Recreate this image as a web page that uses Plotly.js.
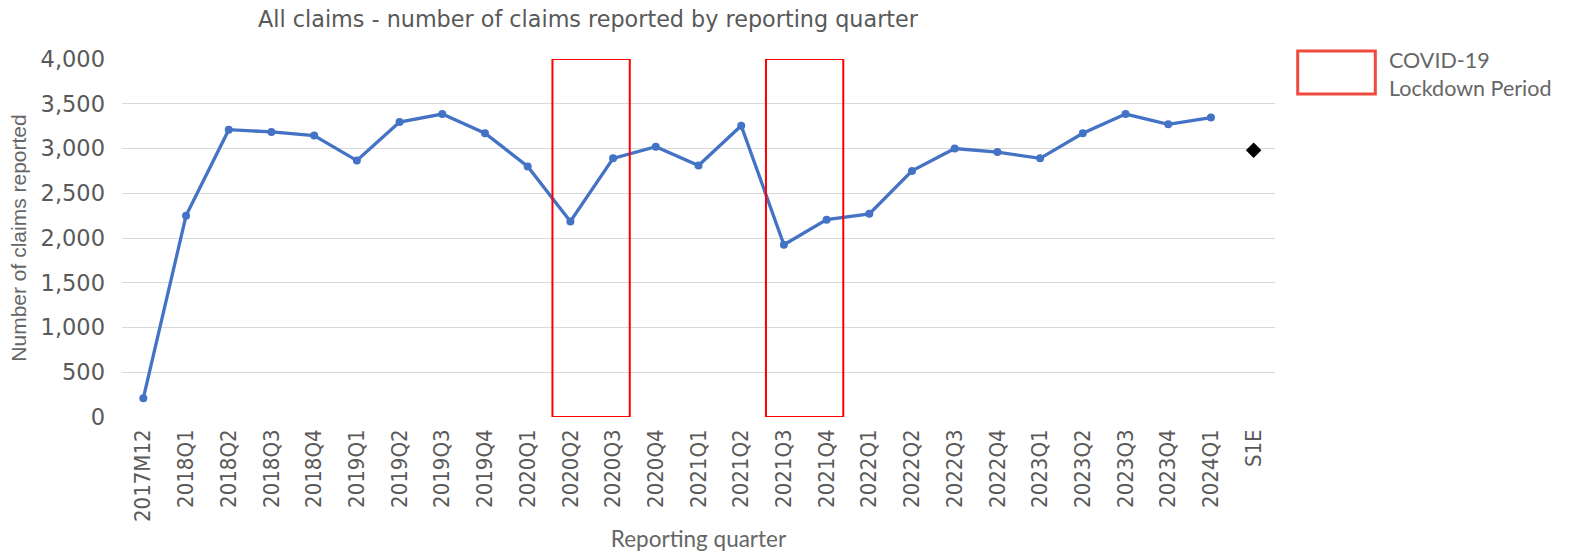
<!DOCTYPE html>
<html>
<head>
<meta charset="utf-8">
<script src="https://cdn.plot.ly/plotly-3.0.1.min.js"></script>
<style>html,body{margin:0;padding:0;background:#fff;}#chart{width:1569px;height:552px;}</style>
</head>
<body>
<div id="chart"></div>
<script>
// Categories (reporting quarters)
const quarters = ["2017M12","2018Q1","2018Q2","2018Q3","2018Q4","2019Q1","2019Q2","2019Q3","2019Q4",
  "2020Q1","2020Q2","2020Q3","2020Q4","2021Q1","2021Q2","2021Q3","2021Q4","2022Q1","2022Q2",
  "2022Q3","2022Q4","2023Q1","2023Q2","2023Q3","2023Q4","2024Q1"];
// Number of claims reported per quarter
const claims = [210,2250,3210,3185,3145,2865,3295,3385,3170,2800,2185,2890,3020,2810,3255,
  1925,2205,2270,2750,3000,2960,2890,3170,3385,3270,3345];
// Estimate
const estCategory = ["S1E"];
const estValue = [2980];
// Lockdown periods (first and last quarter)
const lockdowns = [["2020Q2","2020Q3"],["2021Q3","2021Q4"]];
const yTicks = [0,500,1000,1500,2000,2500,3000,3500,4000];

const allCats = quarters.concat(estCategory);

const traces = [
  {x: quarters, y: claims, type: 'scatter', mode: 'lines+markers',
   line: {color: '#4472C4', width: 3.3}, marker: {color: '#4472C4', size: 8},
   showlegend: false, hoverinfo: 'x+y'},
  {x: estCategory, y: estValue, type: 'scatter', mode: 'markers',
   marker: {color: '#000000', size: 12, symbol: 'diamond'},
   showlegend: false, hoverinfo: 'x+y'}
];

const shapes = lockdowns.map(p => ({
  type: 'rect', xref: 'x', yref: 'y',
  x0: allCats.indexOf(p[0]) - 0.42, x1: allCats.indexOf(p[1]) + 0.39,
  y0: 0, y1: 4000,
  line: {color: '#FF0000', width: 2}, fillcolor: 'rgba(0,0,0,0)'
}));
// legend box
shapes.push({type: 'rect', xref: 'paper', yref: 'paper',
  x0: 1.0197, x1: 1.087, y0: 0.902, y1: 1.0223,
  line: {color: '#EE4B3E', width: 3}, fillcolor: 'rgba(0,0,0,0)'});

const layout = {
  width: 1569, height: 552,
  margin: {l: 122, r: 294, t: 59, b: 135, pad: 0},
  paper_bgcolor: '#ffffff', plot_bgcolor: '#ffffff',
  title: {text: 'All claims - number of claims reported by reporting quarter',
    font: {family: 'DejaVu Sans', size: 22.3, color: '#595959'},
    xref: 'container', yref: 'container', x: 588/1569, xanchor: 'center',
    y: 1 - 19/552, yanchor: 'middle'},
  xaxis: {type: 'category', categoryorder: 'array', categoryarray: allCats,
    range: [-0.5, allCats.length - 0.5],
    tickangle: -90, showgrid: false, zeroline: false, showline: false, ticks: '',
    tickfont: {family: 'DejaVu Sans Condensed', size: 22, color: '#595959'},
    ticklabelstandoff: 7,
    title: {text: 'Reporting quarter', font: {family: 'Lato', size: 22.5, color: '#666666'}, standoff: 14},
    automargin: false, fixedrange: true},
  yaxis: {range: [0, 4000], tickvals: yTicks, tickformat: ',d',
    showgrid: true, gridcolor: '#D9D9D9', gridwidth: 1, zeroline: false, showline: false, ticks: '',
    tickfont: {family: 'DejaVu Sans', size: 22.5, color: '#595959'},
    ticklabelstandoff: 16,
    title: {text: 'Number of claims reported', font: {family: 'Liberation Sans', size: 21, color: '#666666'}, standoff: 8},
    automargin: false, fixedrange: true},
  shapes: shapes,
  annotations: [{xref: 'paper', yref: 'paper', x: 1.097, y: 0.958, xanchor: 'left', yanchor: 'middle',
    align: 'left', showarrow: false, text: 'COVID-19<br>Lockdown Period',
    font: {family: 'Lato', size: 21.5, color: '#666666'}}],
  showlegend: false
};

Plotly.newPlot('chart', traces, layout, {displayModeBar: false, staticPlot: true});
</script>
</body>
</html>
